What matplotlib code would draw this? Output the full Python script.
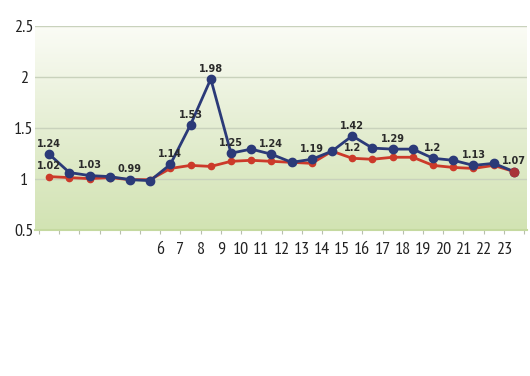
import numpy as np
import matplotlib
matplotlib.use("Agg")
import matplotlib.pyplot as plt
from matplotlib import font_manager
from matplotlib.colors import LinearSegmentedColormap

# ---- data ----
hours = list(range(24))
blue = [1.24, 1.06, 1.03, 1.02, 0.99, 0.98, 1.14, 1.53, 1.98, 1.25, 1.29, 1.24,
        1.16, 1.19, 1.27, 1.42, 1.30, 1.29, 1.29, 1.20, 1.18, 1.13, 1.15, 1.07]
red = [1.02, 1.01, 1.00, 1.01, 0.99, 0.99, 1.10, 1.13, 1.12, 1.17, 1.18, 1.17,
       1.16, 1.15, 1.27, 1.20, 1.19, 1.21, 1.21, 1.13, 1.11, 1.10, 1.13, 1.07]
blue_labeled = [0, 2, 4, 6, 7, 8, 9, 11, 13, 15, 17, 19, 21, 23]
red_labeled = [0, 15]
x_tick_labels = [str(h) for h in range(6, 24)]
y_ticks = [0.5, 1, 1.5, 2, 2.5]
y_tick_labels = ["0.5", "1", "1.5", "2", "2.5"]

names = {f.name for f in font_manager.fontManager.ttflist}
narrow = "Liberation Sans"
for cand in ["Liberation Sans Narrow", "Arial Narrow", "PT Sans Narrow",
             "Archivo Narrow", "Roboto Condensed", "Open Sans Condensed"]:
    if cand in names:
        narrow = cand
        break

fig = plt.figure(figsize=(5.30, 3.76), dpi=100)
ax = fig.add_axes([35/530, 1-229.5/376, (527-35)/530, (229.5-26)/376])
ax.set_xlim(-0.2, 24.15)
ax.set_ylim(0.5, 2.5)

# gradient background (white at top, green at bottom)
cmap = LinearSegmentedColormap.from_list("g", ["#fbfcf6", "#e5eed3", "#d2e3b3"])
grad = np.linspace(0, 1, 256).reshape(-1, 1)
ax.imshow(grad, extent=[-0.2, 24.15, 0.5, 2.5], aspect="auto", cmap=cmap,
          origin="upper", zorder=0)

for yv in [1, 1.5, 2, 2.5]:
    ax.axhline(yv, color="#c9d2bc", lw=1.0, zorder=1)

xs = [h + 0.5 for h in hours]
ax.plot(xs, red, color="#cc3a2a", lw=2.0, marker="o", ms=4.5, zorder=3)
ax.plot(xs, blue, color="#2b3a78", lw=2.0, marker="o", ms=6, zorder=4)
ax.plot(xs[-1:], red[-1:], color="#a8343a", marker="o", ms=6, lw=0, zorder=5)

lab_kw = dict(ha="center", va="center", fontsize=7, fontweight="bold",
              color="#2a2a2a", zorder=6, family="DejaVu Sans")
for i in blue_labeled:
    ax.text(xs[i], blue[i] + 0.1, f"{blue[i]:g}", **lab_kw)
for i in red_labeled:
    ax.text(xs[i], red[i] + 0.1, f"{red[i]:g}", **lab_kw)

for s in ["top", "right", "left"]:
    ax.spines[s].set_visible(False)
ax.spines["bottom"].set_color("#c5d9a0")
ax.spines["bottom"].set_linewidth(1.5)

ax.set_xticks(list(range(25)))
ax.set_xticklabels([""] * 6 + x_tick_labels + [""], fontfamily=[narrow, "DejaVu Sans"],
                   fontsize=13, color="#222222")
ax.tick_params(axis="x", length=3, color="#b8bfae", pad=6)
ax.set_yticks(y_ticks)
ax.set_yticklabels(y_tick_labels, fontfamily=[narrow, "DejaVu Sans"], fontsize=13,
                   color="#222222", ha="center")
ax.tick_params(axis="y", length=0, pad=8)

fig.savefig("out.png", dpi=100)
